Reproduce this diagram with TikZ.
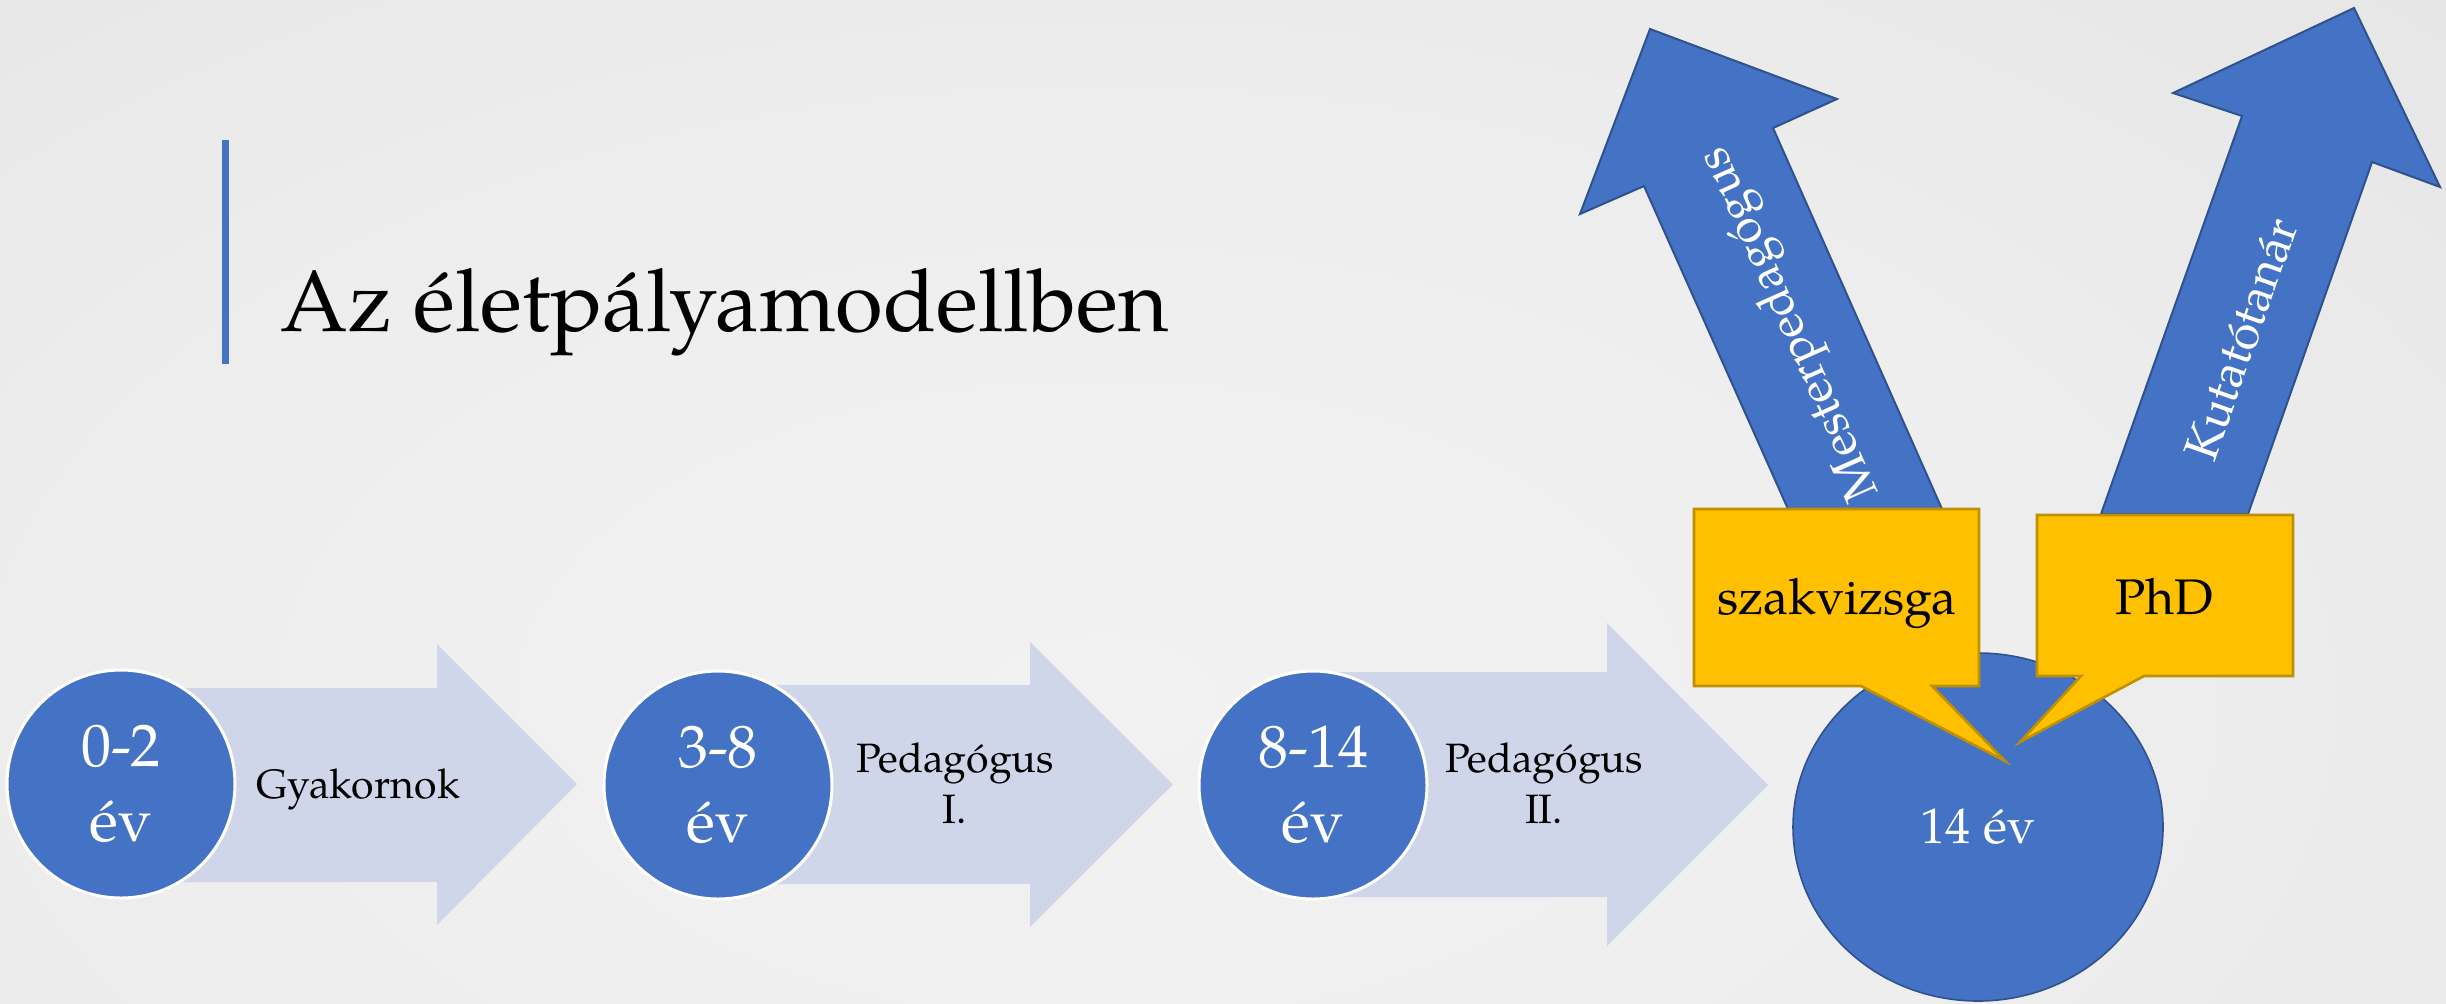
\documentclass[tikz,border=0pt]{standalone}
\usepackage{fontspec}
\setmainfont{TeX Gyre Pagella}
\usetikzlibrary{shapes.geometric}
\definecolor{bluefill}{HTML}{4472C4}
\definecolor{blueline}{HTML}{2F528F}
\definecolor{lightarrow}{HTML}{D0D6EA}
\definecolor{yellowfill}{HTML}{FFC000}
\definecolor{yellowline}{HTML}{BF9000}
\definecolor{bgedge}{HTML}{CCCCCC}
\pgfdeclareradialshading{bgshade}{\pgfpoint{0bp}{0bp}}{rgb(0bp)=(0.949,0.949,0.949); rgb(12bp)=(0.933,0.933,0.933); rgb(29bp)=(0.886,0.886,0.886); rgb(36bp)=(0.867,0.867,0.867); rgb(42bp)=(0.831,0.831,0.831); rgb(50bp)=(0.8,0.8,0.8)}
\begin{document}
\begin{tikzpicture}[x=0.5pt,y=-0.5pt,
  stagecircle/.style={circle, fill=bluefill, draw=white, line width=1.5pt, minimum size=114pt, inner sep=0pt, text=white, font=\fontsize{30}{37.5}\selectfont, align=center},
  stagelabel/.style={inner sep=0pt, align=center, font=\fontsize{20.5}{25.5}\selectfont},
  stagearrow/.style={fill=lightarrow},
  uparrow/.style={fill=bluefill, draw=blueline, line width=1pt, line join=miter},
  arrowtext/.style={inner sep=0pt, text=white, font=\fontsize{24}{28}\selectfont},
  callout/.style={fill=yellowfill, draw=yellowline, line width=1.3pt, line join=miter},
  callouttext/.style={inner sep=0pt, font=\fontsize{25}{30}\selectfont}
]
\useasboundingbox (0,0) rectangle (2446,1003);
% background
\fill[bgedge] (0,0) rectangle (2446,1003);
\begin{scope}
  \clip (0,0) rectangle (2446,1003);
  \shade[shading=bgshade] (1100,700) ellipse [x radius=1000pt, y radius=550pt];
\end{scope}

% title
\fill[bluefill] (222,140) rectangle (229,364);
\node[anchor=base west, inner sep=0pt, font=\fontsize{43.5}{52}\selectfont] (title) at (280,331) {Az életpályamodellben};

% light stage arrows
\fill[stagearrow] (121,688) -- (437,688) -- (437,644) -- (577,784) -- (437,925) -- (437,882) -- (121,882) -- cycle;
\fill[stagearrow] (718,685) -- (1030,685) -- (1030,642) -- (1173,784.5) -- (1030,927) -- (1030,884) -- (718,884) -- cycle;
\fill[stagearrow] (1313,672) -- (1607,672) -- (1607,623) -- (1768,785) -- (1607,946) -- (1607,897) -- (1313,897) -- cycle;

% stage circles
\node[stagecircle] (c1) at (121,784) {0-2\\év};
\node[stagecircle] (c2) at (718,785) {3-8\\év};
\node[stagecircle] (c3) at (1313,785) {8-14\\év};

% stage labels
\node[stagelabel, anchor=base] (l1) at (358,798) {Gyakornok};
\node[stagelabel] (l2) at (955,783) {Pedagógus\\I.};
\node[stagelabel] (l3) at (1544,783) {Pedagógus\\II.};

% final ellipse
\node[ellipse, fill=bluefill, draw=blueline, line width=0.8pt, minimum width=185pt, minimum height=174pt, inner sep=0pt, text=white, font=\fontsize{25}{30}\selectfont] (end) at (1978,827) {14 év};

% up arrows
\filldraw[uparrow] (1788,509) -- (1644,186) -- (1580,214) -- (1650,29) -- (1837,99) -- (1773,128) -- (1942,509) -- cycle;
\filldraw[uparrow] (2101,514) -- (2242,116) -- (2173,93) -- (2354,8) -- (2440,187) -- (2372,162) -- (2248,514) -- cycle;
\node[arrowtext, rotate=114] (mp) at (1791,323) {Mesterpedagógus};
\node[arrowtext, rotate=70.5] (kt) at (2241,339) {Kutatótanár};

% callouts
\filldraw[callout] (1694,509) -- (1979,509) -- (1979,686) -- (1932,686) -- (2005,761) -- (1861,686) -- (1694,686) -- cycle;
\node[callouttext, anchor=base] (szv) at (1837,614) {szakvizsga};
\filldraw[callout] (2037,515) -- (2293,515) -- (2293,676) -- (2144,676) -- (2020,742) -- (2081,676) -- (2037,676) -- cycle;
\node[callouttext, anchor=base] (phd) at (2164,614) {PhD};
\end{tikzpicture}
\end{document}
